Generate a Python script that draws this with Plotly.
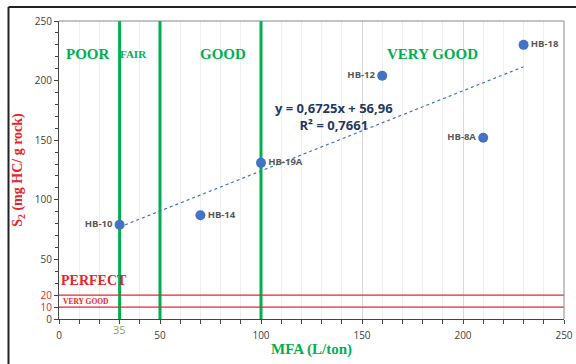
import plotly.graph_objects as go

# Data
wells = ["HB-10", "HB-14", "HB-19A", "HB-12", "HB-8A", "HB-18"]
mfa = [30, 70, 100, 160, 210, 230]
s2 = [79, 87, 131, 204, 152, 230]
label_pos = ["middle left", "middle right", "middle right", "middle left", "middle left", "middle right"]

trend_slope = 0.6725
trend_intercept = 56.96
trend_x = [30, 230]
r_squared = "0,7661"

class_bounds_x = [30, 50, 100]
class_labels_x = ["POOR", "FAIR", "GOOD", "VERY GOOD"]
class_label_xpos = [14, 37, 81, 185]
class_label_size = [15, 11, 15, 15]

class_bounds_y = [10, 20]

x_range = [0, 250]
y_range = [0, 250]
y_ticks = [0, 10, 20, 50, 100, 150, 200, 250]

GREEN = "#00B050"
RED = "#E8242B"
BLUE = "#4472C4"
SERIF = "Liberation Serif"
SANS = "Open Sans"

fig = go.Figure()

# Class boundary lines (as traces so they sit above gridlines, below points)
for xb in class_bounds_x:
    fig.add_trace(go.Scatter(x=[xb, xb], y=y_range, mode="lines",
                             line=dict(color=GREEN, width=3),
                             hoverinfo="skip", showlegend=False))
for yb in class_bounds_y:
    fig.add_trace(go.Scatter(x=x_range, y=[yb, yb], mode="lines",
                             line=dict(color=RED, width=1.2),
                             hoverinfo="skip", showlegend=False))

# Trendline
trend_y = [trend_slope * x + trend_intercept for x in trend_x]
fig.add_trace(go.Scatter(x=trend_x, y=trend_y, mode="lines",
                         line=dict(color=BLUE, width=1.2, dash="dot"),
                         hoverinfo="skip", showlegend=False))

# Points
fig.add_trace(go.Scatter(x=mfa, y=s2, mode="markers+text",
                         text=[f"<b>{w}</b>" for w in wells],
                         textposition=label_pos,
                         textfont=dict(family=SANS, size=9.5, color="#595959"),
                         marker=dict(color=BLUE, size=10),
                         cliponaxis=False, showlegend=False))

shapes = []
# outer frame
shapes.append(dict(type="line", xref="paper", yref="paper", x0=-0.1, x1=1.03, y0=1.047, y1=1.047,
                   line=dict(color="#222222", width=2)))
shapes.append(dict(type="line", xref="paper", yref="paper", x0=-0.1, x1=-0.1, y0=1.047, y1=-0.16,
                   line=dict(color="#222222", width=2)))
# plot-area border top/right in gray
shapes.append(dict(type="line", xref="paper", yref="paper", x0=0, x1=1, y0=1, y1=1,
                   line=dict(color="#888", width=1)))
shapes.append(dict(type="line", xref="paper", yref="paper", x0=1, x1=1, y0=0, y1=1,
                   line=dict(color="#888", width=1)))

annotations = []
for lab, xp, sz in zip(class_labels_x, class_label_xpos, class_label_size):
    annotations.append(dict(x=xp, y=222, xref="x", yref="y", text=f"<b>{lab}</b>",
                            showarrow=False, font=dict(family=SERIF, size=sz, color=GREEN)))
annotations.append(dict(x=0, y=32, xref="x", yref="y", xanchor="left", text="<b>PERFECT</b>",
                        showarrow=False, font=dict(family=SERIF, size=14, color=RED)))
annotations.append(dict(x=1, y=15, xref="x", yref="y", xanchor="left", text="<b>VERY GOOD</b>",
                        showarrow=False, font=dict(family=SERIF, size=7.5, color=RED)))
eq_text = (f"<b>y = {str(trend_slope).replace('.', ',')}x + "
           f"{str(trend_intercept).replace('.', ',')}</b><br><b>R² = {r_squared}</b>")
annotations.append(dict(x=136, y=170, xref="x", yref="y", text=eq_text,
                        showarrow=False, align="center",
                        font=dict(family=SANS, size=13, color="#1F3864")))
annotations.append(dict(x=30, y=0, xref="x", yref="paper", yshift=-1, text="35",
                        showarrow=False, yanchor="top",
                        font=dict(family=SANS, size=11, color="#8FA85A")))

ticktext = []
for t in y_ticks:
    if t in class_bounds_y:
        ticktext.append(f'<span style="color:{RED}">{t}</span>')
    else:
        ticktext.append(str(t))

fig.update_layout(
    width=576, height=364,
    margin=dict(l=59, r=12, t=21, b=45, autoexpand=False),
    plot_bgcolor="white", paper_bgcolor="white",
    shapes=shapes, annotations=annotations,
    xaxis=dict(range=x_range, tickvals=[0, 50, 100, 150, 200, 250],
               ticks="outside", ticklen=4, tickcolor="#444",
               showline=True, linecolor="#444", linewidth=1, mirror=False,
               showgrid=True, gridcolor="#D9D9D9", gridwidth=1,
               minor=dict(dtick=10, ticks="outside", ticklen=4, tickcolor="#444",
                          showgrid=True, gridcolor="#EFEFEF"),
               tickfont=dict(family=SANS, size=10, color="#404040"),
               ticklabelstandoff=3, automargin=False,
               title=dict(text="<b>MFA (L/ton)</b>", font=dict(family=SERIF, size=15, color=GREEN),
                          standoff=2),
               zeroline=False),
    yaxis=dict(range=y_range, tickvals=y_ticks, ticktext=ticktext,
               ticks="outside", ticklen=4, tickcolor="#444",
               showline=True, linecolor="#444", linewidth=1,
               showgrid=False, automargin=False,
               minor=dict(dtick=10, ticks="outside", ticklen=3, tickcolor="#444"),
               tickfont=dict(family=SANS, size=10, color="#404040"),
               title=dict(text="<b>S<sub>2</sub> (mg HC/ g rock)</b>",
                          font=dict(family=SERIF, size=14, color=RED), standoff=8),
               zeroline=False),
)

fig.write_html("out.html")
